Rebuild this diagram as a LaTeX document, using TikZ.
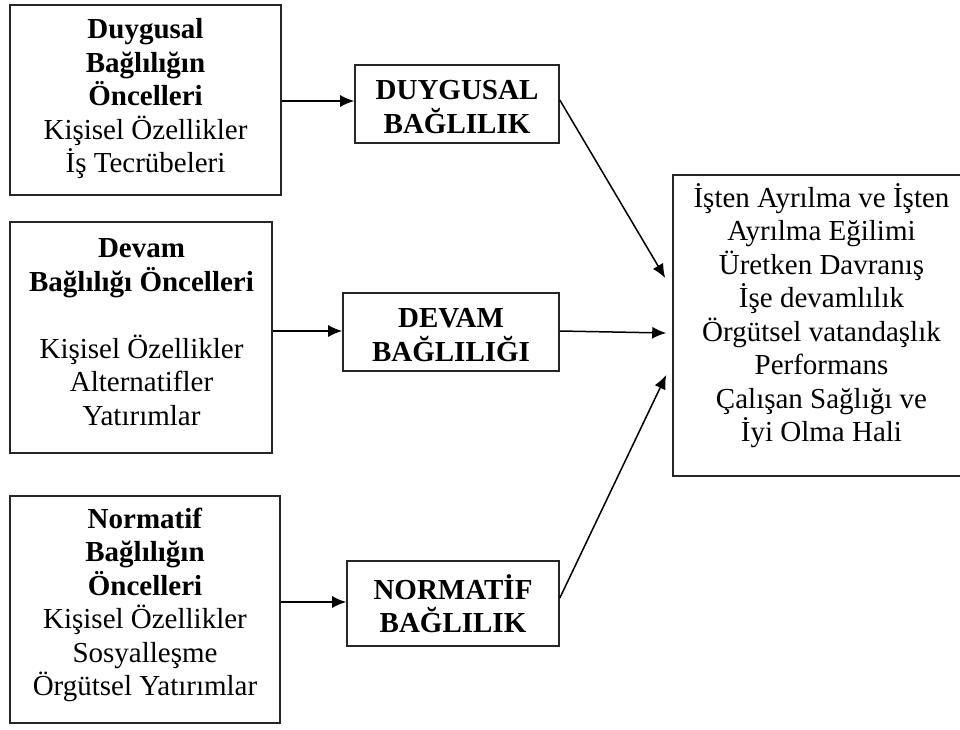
\documentclass[tikz,border=0pt]{standalone}
\usepackage{fontspec}
\setmainfont{Liberation Serif}
\usetikzlibrary{arrows.meta}
\begin{document}
\begin{tikzpicture}[x=1pt,y=-1pt,
  frame/.style={draw=black!85, line width=1.6pt, inner sep=0pt},
  words/.style={align=center, inner sep=0pt, font=\fontsize{29}{33.5}\selectfont},
  heading/.style={words, font=\fontsize{29}{33.5}\selectfont\bfseries},
  conn/.style={draw=black, line width=1.5pt, -{Latex[length=14pt,width=12pt]}}]
\useasboundingbox (0,0) rectangle (960,729);
\clip (0,0) rectangle (960,729);

% antecedent boxes (left column)
\node[frame, minimum width=271pt, minimum height=190pt] (b1) at (145.5,100) {};
\node[frame, minimum width=262pt, minimum height=231pt] (b2) at (141,337.5) {};
\node[frame, minimum width=270pt, minimum height=227pt] (b3) at (145,609.5) {};

\node[words] (t1) at (145.5,99) {\textbf{Duygusal}\\\textbf{Bağlılığın}\\\textbf{Öncelleri}\\Kişisel Özellikler\\İş Tecrübeleri};
\node[words] (t2) at (141.5,332) {\textbf{Devam}\\\textbf{Bağlılığı Öncelleri}\\[33.5pt]Kişisel Özellikler\\Alternatifler\\Yatırımlar};
\node[words] (t3) at (145,605) {\textbf{Normatif}\\\textbf{Bağlılığın}\\\textbf{Öncelleri}\\Kişisel Özellikler\\Sosyalleşme\\Örgütsel Yatırımlar};

% commitment components (middle column)
\node[frame, minimum width=204pt, minimum height=78pt] (d1) at (457,104) {};
\node[frame, minimum width=216pt, minimum height=78pt] (d2) at (451,332) {};
\node[frame, minimum width=212pt, minimum height=85pt] (d3) at (453,603.5) {};

\node[heading] (td1) at (457,107) {DUYGUSAL\\BAĞLILIK};
\node[heading] (td2) at (451,335) {DEVAM\\BAĞLILIĞI};
\node[heading] (td3) at (453,603.5) {NORMATİF\\BAĞLILIK};

% outcomes box (right)
\node[frame, minimum width=297pt, minimum height=301pt] (R) at (821.5,325.5) {};
\node[words] (tR) at (821.5,315.5) {İşten Ayrılma ve İşten\\Ayrılma Eğilimi\\Üretken Davranış\\İşe devamlılık\\Örgütsel vatandaşlık\\Performans\\Çalışan Sağlığı ve\\İyi Olma Hali};

% connectors
\coordinate (b1o) at ([yshift=-1pt]b1.east);
\coordinate (b2o) at ([yshift=6.5pt]b2.east);
\coordinate (b3o) at ([yshift=7.5pt]b3.east);
\draw[conn] (b1o) -- (b1o -| d1.west);
\draw[conn] (b2o) -- (b2o -| d2.west);
\draw[conn] (b3o) -- (b3o -| d3.west);

\coordinate (r1) at ([xshift=-7pt,yshift=47.5pt]R.west);
\coordinate (r2) at ([xshift=-6pt,yshift=-7.5pt]R.west);
\coordinate (r3) at ([xshift=-6pt,yshift=-49.5pt]R.west);
\draw[conn] ([yshift=4pt]d1.east) -- (r1);
\draw[conn] ([yshift=1pt]d2.east) -- (r2);
\draw[conn] ([yshift=5.5pt]d3.east) -- (r3);
\end{tikzpicture}
\end{document}
